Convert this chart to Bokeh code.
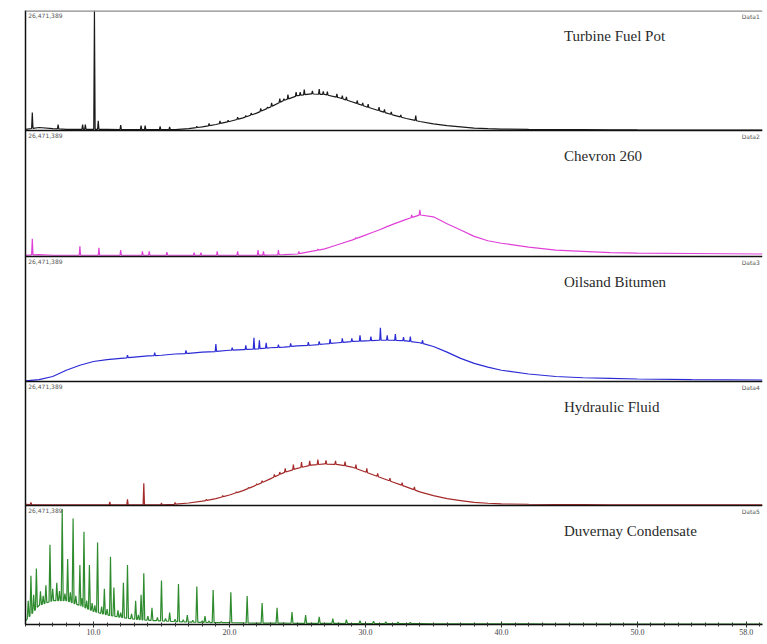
import numpy as np
from bokeh.plotting import figure
from bokeh.models import Span, Label, FixedTicker, NumeralTickFormatter, Range1d
from bokeh.core.properties import value
from bokeh.embed import file_html
from bokeh.resources import INLINE

# ---------------- data (percent of full scale 26,471,389) ----------------
ENV_T = [5.0, 6, 7, 8, 9, 10, 11, 12, 13, 14, 15, 16, 17, 18, 19, 20, 21, 22, 23, 24,
         25, 26, 27, 28, 29, 30, 31, 32, 33, 34, 35, 36, 37, 38, 39, 40, 42, 44, 46, 48,
         50, 54, 59.2]

TURBINE_ENV = [1, 2.5, 1.5, 1, 1, 1, 1, 0.8, 0.8, 0.8, 0.8, 0.8, 1.5, 3, 5, 7.5, 10.5, 14.5, 19.5, 25,
               29, 30.5, 30, 27.5, 24, 20, 16.5, 13, 10, 7.5, 5.5, 4, 3, 2, 1.5, 1.2, 0.9, 0.8, 0.7, 0.6,
               0.5, 0.4, 0.4]
CHEVRON_ENV = [1, 1.5, 1, 1, 1, 1, 1, 1, 1, 1, 1, 1, 1, 1, 1, 1, 1, 1, 1.2, 1.5,
               2, 4, 6, 9.5, 13, 17, 21, 25.5, 29.5, 33, 31.5, 26, 21, 16, 12.5, 10.5, 7.5, 5, 4, 3,
               2.7, 2.4, 2]
OILSAND_ENV = [0.5, 1.5, 4, 9, 13, 16, 17.5, 18.5, 19.5, 20.5, 21, 22, 22.5, 23.5, 24, 25, 25.5, 26, 27, 27.5,
               28.5, 29, 30, 31, 32, 32.5, 33, 33, 32.5, 31, 28, 23.5, 18.5, 14.5, 11.5, 9, 6, 4, 3, 2.5,
               2, 1.5, 1.2]
HYDRAULIC_ENV = [1, 0.5, 0.5, 0.5, 0.5, 0.5, 0.5, 0.5, 0.5, 0.5, 0.5, 1, 2, 3.5, 5.5, 8.5, 12, 16.5, 21.5, 26.5,
                 30, 32.5, 33.5, 33, 31, 27, 23, 19, 15, 11, 8, 5.5, 4, 2.5, 1.8, 1.3, 1, 0.8, 0.7, 0.6,
                 0.5, 0.5, 0.5]
DUVERNAY_ENV = [3, 16, 20, 20, 16, 11, 8, 6, 4.5, 3.5, 3, 2.5, 2, 1.8, 1.5, 1.5, 1.3, 1.2, 1.2, 1.1,
                1, 1, 0.9, 0.9, 0.8, 0.8, 0.8, 0.7, 0.7, 0.7, 0.6, 0.6, 0.6, 0.5, 0.5, 0.5, 0.5, 0.4, 0.4, 0.4,
                0.4, 0.3, 0.3]

TURBINE_PK_T = [5.5, 7.4, 9.2, 9.4, 10.07, 10.35, 12.0, 13.5, 13.8, 14.9, 15.6, 17.6, 18.5, 19.3, 19.9,
                20.6, 21.2, 21.6, 22.3, 22.8, 23.1, 23.7, 24.0, 24.3, 24.9, 25.2, 25.5, 26.1, 26.6, 26.9,
                27.2, 27.9, 28.3, 28.6, 29.4, 29.8, 30.2, 31.0, 31.4, 31.9, 32.6, 33.7]
TURBINE_PK_H = [15, 5, 5, 5, 100, 8, 4.5, 4, 4, 3.5, 3, 3.5, 6, 8, 8.5,
                11, 12.5, 14.5, 18.5, 19.5, 23, 26.5, 26.5, 30, 32, 32, 34, 33, 34.5, 32.5,
                32.5, 30.5, 29, 28, 25, 23, 22, 19.5, 17.5, 15.5, 13, 12.5]

CHEVRON_PK_T = [5.5, 9.0, 10.4, 12.0, 13.6, 14.1, 15.4, 17.4, 17.9, 19.1, 20.6, 22.1, 22.5, 23.6, 25.1,
                26.5, 27.5, 28.4, 29.3, 30.5, 31.6, 32.5, 33.4, 34.0]
CHEVRON_PK_H = [14, 8, 7, 5, 4, 4, 3.5, 3, 3, 4, 4, 5, 4, 5, 4,
                6, 8, 11, 15, 19, 24, 27.5, 33, 37]

OILSAND_PK_T = [12.5, 14.5, 16.8, 19.0, 20.2, 21.2, 21.8, 22.2, 22.7, 23.6, 24.5, 25.8, 26.6, 27.4, 28.3,
                29.0, 29.6, 30.4, 31.1, 31.6, 32.2, 32.8, 33.3, 34.2]
OILSAND_PK_H = [21, 23, 25, 30, 27, 29, 35, 33, 31, 29.5, 30.5, 31.5, 32, 34, 34.5,
                34.5, 37, 36, 43, 37, 38, 35.5, 36, 33]

HYDRAULIC_PK_T = [5.4, 11.2, 12.5, 13.7, 15.0, 16.0, 18.3, 19.5, 20.5, 21.4, 22.0, 22.4, 23.3, 23.7, 24.1,
                  24.7, 25.3, 25.9, 26.5, 27.1, 27.8, 28.5, 29.3, 30.1, 30.9, 31.8, 32.7, 33.6]
HYDRAULIC_PK_H = [2.5, 3, 5, 18, 2, 2.5, 5, 8, 11, 14.5, 17.5, 20, 25, 27, 30,
                  33, 35, 36, 37, 36.5, 36, 35.5, 33, 30, 26, 22, 18.5, 15]

DUVERNAY_PK_T = [5.2, 5.4, 5.6, 5.8, 6.1, 6.3, 6.5, 6.8, 7.0, 7.3, 7.5, 7.7, 7.9, 8.1, 8.3, 8.5, 8.7,
                 9.0, 9.15, 9.3, 9.5, 9.7, 9.9, 10.1, 10.3, 10.6, 10.8, 11.0, 11.25, 11.5, 11.8, 12.0,
                 12.2, 12.5, 12.8, 13.1, 13.3, 13.5, 13.7, 14.0, 14.3, 14.7, 15.0, 15.3, 15.6, 16.0,
                 16.25, 16.6, 16.9, 17.3, 17.6, 18.0, 18.2, 18.5, 18.8, 19.4, 20.1, 21.3,
                 22.4, 23.5, 24.6, 25.6, 26.6, 27.6, 28.6, 29.6, 30.6, 31.5, 32.4, 33.3]
DUVERNAY_PK_H = [20, 41, 25, 47, 28, 24, 33, 67, 30, 35, 28, 97, 26, 55, 27, 89, 24,
                 50, 22, 78, 20, 50, 18, 16, 69, 15, 30, 13, 57, 31, 12, 10,
                 35, 50, 9, 20, 8, 25, 43, 7, 14, 6, 37, 5, 10, 4.5,
                 34, 4, 8, 3.5, 32, 3, 7, 3, 29, 2.5, 27, 24,
                 18, 14, 10.5, 8, 6.5, 5, 4, 3.3, 2.8, 2.4, 2, 1.8]

NAMES = ["Turbine Fuel Pot", "Chevron 260", "Oilsand Bitumen", "Hydraulic Fluid", "Duvernay Condensate"]
DATA_TAGS = ["Data1", "Data2", "Data3", "Data4", "Data5"]
SCALE_TEXT = "26,471,389"
X_TICKS = [10, 20, 30, 40, 50, 58]

ENVS = [TURBINE_ENV, CHEVRON_ENV, OILSAND_ENV, HYDRAULIC_ENV, DUVERNAY_ENV]
PKS = [(TURBINE_PK_T, TURBINE_PK_H), (CHEVRON_PK_T, CHEVRON_PK_H), (OILSAND_PK_T, OILSAND_PK_H),
       (HYDRAULIC_PK_T, HYDRAULIC_PK_H), (DUVERNAY_PK_T, DUVERNAY_PK_H)]

# ---------------- layout / style ----------------
PANEL_BASE = [494, 368, 243, 119, 0]
PANEL_H = [120, 126, 125, 124, 119]
COLORS = ["#1a1a1a", "#e040d8", "#2b2bd6", "#a52a2a", "#2e8b2e"]
HALF_W = [0.05, 0.05, 0.05, 0.05, 0.07]


def build_trace(env, pk_t, pk_h, hw):
    env_t = np.array(ENV_T, float)
    env = np.array(env, float)
    pts = []
    pk_t = np.array(pk_t, float)
    for t, e in zip(env_t, env):
        if np.all(np.abs(pk_t - t) > hw):
            pts.append((t, e))
    for t, h in zip(pk_t, pk_h):
        b1 = np.interp(t - hw, env_t, env)
        b2 = np.interp(t + hw, env_t, env)
        pts += [(t - hw, b1), (t, h), (t + hw, b2)]
    pts.sort(key=lambda a: a[0])
    xs = [a[0] for a in pts]
    ys = [a[1] for a in pts]
    return xs, ys


p = figure(width=767, height=644, x_range=Range1d(5.0, 59.2), y_range=Range1d(0, 614),
           output_backend="svg", toolbar_location=None,
           min_border_left=25, min_border_right=5, min_border_top=10, min_border_bottom=20)
p.outline_line_color = None
p.grid.visible = False
p.background_fill_color = "white"

# left axis as plain line
p.yaxis.ticker = FixedTicker(ticks=[])
p.yaxis.major_tick_line_color = None
p.yaxis.minor_tick_line_color = None
p.yaxis.axis_line_color = "#111111"
p.yaxis.axis_line_width = 1.5

# bottom axis
p.xaxis.ticker = FixedTicker(ticks=X_TICKS, minor_ticks=list(range(5, 60)))
p.xaxis.formatter = NumeralTickFormatter(format="0.0")
p.xaxis.axis_line_color = "#111111"
p.xaxis.axis_line_width = 1.5
p.xaxis.major_tick_in = 3
p.xaxis.major_tick_out = 3
p.xaxis.minor_tick_in = 2
p.xaxis.minor_tick_out = 2
p.xaxis.major_tick_line_color = "#333333"
p.xaxis.minor_tick_line_color = "#333333"
p.xaxis.major_label_standoff = 1
p.xaxis.major_label_text_font = "Liberation Serif"
p.xaxis.major_label_text_font_size = "8px"
p.xaxis.major_label_text_color = "#444444"

# top line and separators
p.add_layout(Span(location=614, dimension="width", line_color="#8c8c8c", line_width=2.5))
for i in range(4):
    p.add_layout(Span(location=PANEL_BASE[i], dimension="width", line_color="#111111", line_width=1.5))

# traces
for i in range(5):
    xs, ys = build_trace(ENVS[i], PKS[i][0], PKS[i][1], HALF_W[i])
    yy = [PANEL_BASE[i] + v / 100.0 * PANEL_H[i] for v in ys]
    p.line(xs, yy, line_color=COLORS[i], line_width=1.2)

# texts
tops = [PANEL_BASE[i] + PANEL_H[i] for i in range(5)]
p.text(x=[44.6] * 5, y=[t - 25 for t in tops], text=NAMES,
       text_font=value("Liberation Serif"), text_font_size="15px",
       text_baseline="middle", text_align="left", text_color="#2a2a2a")
p.text(x=[5.2] * 5, y=[t - 2 for t in tops], text=[SCALE_TEXT] * 5,
       text_font=value("DejaVu Sans"), text_font_size="6px",
       text_baseline="top", text_align="left", text_color="#555555")
p.text(x=[59.0] * 5, y=[t - 2 for t in tops], text=DATA_TAGS,
       text_font=value("DejaVu Sans"), text_font_size="6px",
       text_baseline="top", text_align="right", text_color="#555555")

p.add_layout(Label(x=33.2, y=616, text="m/z: TIC", text_font="DejaVu Sans",
                   text_font_size="6px", text_color="#555555", text_align="center",
                   text_baseline="bottom"))
p.add_layout(Label(x=58.3, y=-19, text="min", text_font="DejaVu Sans",
                   text_font_size="6px", text_color="#555555", text_align="center",
                   text_baseline="bottom"))

open("out.html", "w").write(file_html(p, INLINE))
